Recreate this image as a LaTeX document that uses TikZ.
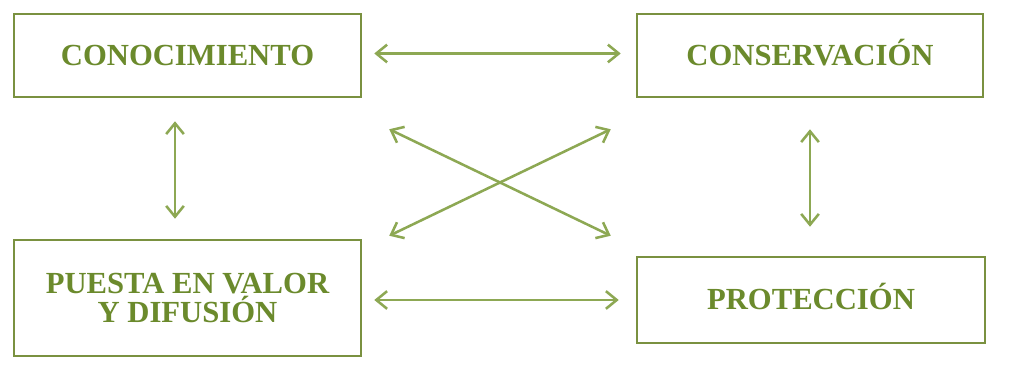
\documentclass[tikz,border=0pt]{standalone}
\usepackage{fontspec}
\setmainfont{Liberation Serif}
\usetikzlibrary{arrows.meta}

\definecolor{boxgreen}{HTML}{7A9140}
\definecolor{textgreen}{HTML}{6B8A2C}
\definecolor{arrowgreen}{HTML}{8DA853}

\tikzset{
        stage/.style={draw=boxgreen, line width=1.8pt, inner sep=0pt,
                text=textgreen, align=center,
                font=\fontsize{21.8}{20.8}\selectfont\bfseries},
        oneline/.style={text height=14pt, text depth=0pt},
        link/.style={draw=arrowgreen, line width=1.8pt,
                {Straight Barb[length=0.27cm, width=0.44cm]}-{Straight Barb[length=0.27cm, width=0.44cm]}}
}

\begin{document}
\begin{tikzpicture}[x=0.025cm, y=0.025cm]
        \useasboundingbox[fill=white] (0,0) rectangle (1015,380);
        \node[stage, oneline, minimum width=347*0.025cm, minimum height=83*0.025cm] (know) at (187.5,324.5) {CONOCIMIENTO};
        \node[stage, oneline, minimum width=346*0.025cm, minimum height=83*0.025cm] (cons) at (810,324.5) {CONSERVACIÓN};
        \node[stage, minimum width=347*0.025cm, minimum height=116*0.025cm] (diff) at (187.5,82) {PUESTA EN VALOR\\Y DIFUSIÓN};
        \node[stage, oneline, minimum width=348*0.025cm, minimum height=86*0.025cm] (prot) at (811,80) {PROTECCIÓN};

        \draw[link] ([shift={(12,2)}]know.east) -- ([shift={(-15,2)}]cons.west);
        \draw[link] ([shift={(12,-2)}]diff.east) -- ([shift={(-17,0)}]prot.west);
        \draw[link] ([shift={(-12.5,-23)}]know.south) -- ([shift={(-12.5,20)}]diff.north);
        \draw[link] ([shift={(0,-31)}]cons.south) -- ([shift={(-1,29)}]prot.north);
        \draw[link] ([shift={(27,-31)}]know.south east) -- ([shift={(-25,20)}]prot.north west);
        \draw[link] ([shift={(27,3)}]diff.north east) -- ([shift={(-25,-31)}]cons.south west);
\end{tikzpicture}
\end{document}
